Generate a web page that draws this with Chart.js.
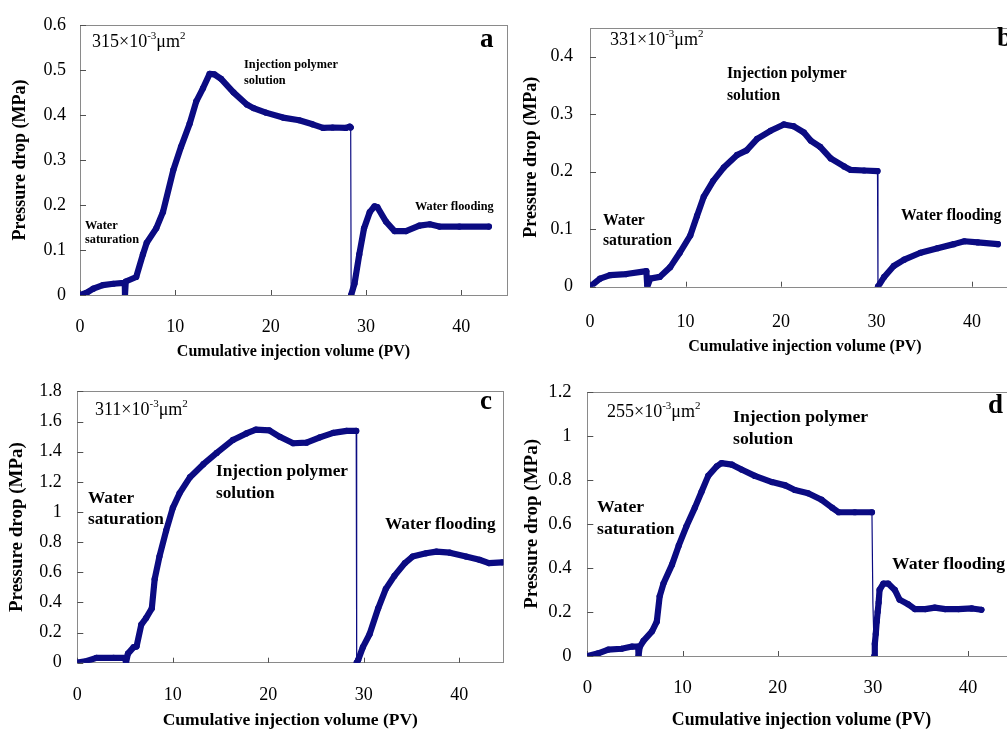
<!DOCTYPE html>
<html>
<head>
<meta charset="utf-8">
<script src="https://cdn.jsdelivr.net/npm/chart.js@4.4.1/dist/chart.umd.min.js"></script>
<style>
body{margin:0;width:1007px;height:731px;overflow:hidden;background:#fff;position:relative}
canvas{position:absolute}
.t{position:absolute;font-family:"Liberation Serif","Times New Roman",serif;color:#000;white-space:nowrap}
.b{font-weight:bold}
.k{font-size:18px;line-height:20px}
.k sup{font-size:11px;line-height:0;position:relative;top:-1px}
</style>
</head>
<body>
<canvas id="ChartA" width="510" height="365" style="left:0;top:0"></canvas>
<canvas id="ChartB" width="520" height="360" style="left:510px;top:0"></canvas>
<canvas id="ChartC" width="510" height="366" style="left:0;top:365px"></canvas>
<canvas id="ChartD" width="520" height="366" style="left:510px;top:365px"></canvas>

<div class="t k" style="left:92px;top:31px">315×10<sup>-3</sup>μm<sup>2</sup></div>
<div class="t k" style="left:610px;top:29px">331×10<sup>-3</sup>μm<sup>2</sup></div>
<div class="t k" style="left:95px;top:399px">311×10<sup>-3</sup>μm<sup>2</sup></div>
<div class="t k" style="left:607px;top:401px">255×10<sup>-3</sup>μm<sup>2</sup></div>

<div class="t b" style="left:480px;top:24px;font-size:27px;line-height:28px">a</div>
<div class="t b" style="left:997px;top:23px;font-size:27px;line-height:28px">b</div>
<div class="t b" style="left:480px;top:386px;font-size:27px;line-height:28px">c</div>
<div class="t b" style="left:988px;top:390px;font-size:27px;line-height:28px">d</div>

<div class="t b" style="left:244px;top:56px;font-size:12.3px;line-height:16px">Injection polymer<br>solution</div>
<div class="t b" style="left:415px;top:198px;font-size:12.3px;line-height:16px">Water flooding</div>
<div class="t b" style="left:85px;top:218px;font-size:12.3px;line-height:14px">Water<br>saturation</div>

<div class="t b" style="left:727px;top:62px;font-size:15.7px;line-height:22px">Injection polymer<br>solution</div>
<div class="t b" style="left:901px;top:204px;font-size:15.7px;line-height:22px">Water flooding</div>
<div class="t b" style="left:603px;top:210px;font-size:15.7px;line-height:20px">Water<br>saturation</div>

<div class="t b" style="left:216px;top:460px;font-size:17.3px;line-height:22px">Injection polymer<br>solution</div>
<div class="t b" style="left:385px;top:513px;font-size:17.3px;line-height:22px">Water flooding</div>
<div class="t b" style="left:88px;top:487px;font-size:17.3px;line-height:21px">Water<br>saturation</div>

<div class="t b" style="left:733px;top:405px;font-size:17.7px;line-height:22px">Injection polymer<br>solution</div>
<div class="t b" style="left:892px;top:552px;font-size:17.7px;line-height:22px">Water flooding</div>
<div class="t b" style="left:597px;top:495px;font-size:17.7px;line-height:22px">Water<br>saturation</div>

<script>
// panel a  315e-3 um2
const aX=[0,0.7,1.4,2.4,3.5,4.6,4.7,4.72,4.8,5.9,6.6,7.0,8.0,8.7,9.8,10.6,11.5,12.2,12.9,13.6,14.1,14.8,16.1,17.5,18.2,19.5,21.3,23.0,24.4,25.5,26.5,27.9,28.3,28.4,28.45,28.8,29.3,29.8,30.4,30.9,31.2,32.1,33.0,34.2,35.6,36.7,37.7,39.8,42.9];
const aY=[0,0.005,0.014,0.022,0.025,0.027,0.025,0,0.03,0.04,0.09,0.116,0.148,0.184,0.278,0.329,0.38,0.43,0.459,0.491,0.49,0.48,0.45,0.423,0.415,0.405,0.394,0.388,0.379,0.371,0.372,0.371,0.374,0.372,0,0.025,0.09,0.148,0.184,0.197,0.195,0.163,0.142,0.142,0.154,0.157,0.152,0.152,0.152];

// panel b  331e-3 um2
const bX=[0,1.05,2.1,3.8,5.9,6.0,6.3,7.3,8.4,9.4,10.5,11.2,11.9,12.9,14.0,15.4,16.4,17.5,18.9,20.3,21.3,22.4,23.1,24.1,25.2,26.6,27.3,28.7,30.1,30.15,30.8,31.8,32.9,34.6,36.4,38.1,39.2,40.6,42.7];
const bY=[0,0.014,0.02,0.022,0.027,0,0.014,0.017,0.034,0.059,0.089,0.123,0.156,0.184,0.207,0.229,0.237,0.257,0.271,0.282,0.279,0.268,0.254,0.243,0.223,0.209,0.203,0.202,0.201,0,0.017,0.036,0.047,0.059,0.067,0.074,0.079,0.077,0.074];

// panel c  311e-3 um2
const cX=[0,1.0,2.0,3.8,5.0,5.1,5.3,5.9,6.2,6.7,7.2,7.8,8.1,8.6,9.3,10.0,10.7,11.8,13.2,14.6,16.3,17.7,18.7,20.1,21.2,22.6,24.0,25.4,26.8,28.2,29.2,29.25,29.4,29.9,30.6,31.5,32.3,33.2,34.3,35.1,36.5,37.6,39.0,40.7,42.1,43.1,44.5];
const cY=[0,0.011,0.032,0.032,0.032,0,0.06,0.103,0.107,0.253,0.296,0.36,0.554,0.704,0.876,1.027,1.123,1.231,1.317,1.392,1.478,1.521,1.546,1.542,1.499,1.456,1.46,1.495,1.525,1.538,1.538,0,0.017,0.103,0.189,0.361,0.49,0.576,0.661,0.704,0.726,0.737,0.73,0.704,0.683,0.661,0.666];

// panel d  255e-3 um2
const dX=[0,1.15,2.2,3.6,4.7,5.35,5.38,5.5,5.9,6.8,7.3,7.6,8.0,8.9,9.6,10.4,11.3,12.0,12.7,13.6,14.1,15.2,16.2,17.6,19.4,20.8,21.8,23.2,24.6,25.7,26.4,28.1,29.9,30.0,30.15,30.2,30.3,30.4,30.5,30.6,30.7,31.1,31.6,32.3,32.8,33.7,34.4,35.5,36.5,37.6,39.0,40.4,41.4];
const dY=[0,0.012,0.029,0.033,0.043,0.043,0,0.04,0.069,0.112,0.156,0.271,0.329,0.415,0.501,0.588,0.674,0.746,0.818,0.862,0.876,0.869,0.847,0.818,0.79,0.775,0.754,0.739,0.71,0.674,0.653,0.653,0.653,0.24,0,0.055,0.1,0.156,0.2,0.242,0.3,0.329,0.329,0.3,0.256,0.235,0.213,0.213,0.22,0.213,0.213,0.216,0.21];

const xTitle="Cumulative injection volume (PV)";
const yTitle="Pressure drop (MPa)";
const xTicksStep=10;

const NAVY='#0b0b82';
const SERIF='"Liberation Serif","Times New Roman",serif';

const frameAndTicks={
id:'frameAndTicks',
beforeDatasetsDraw(chart){
const {ctx,chartArea:A,scales}=chart;
ctx.save();
ctx.strokeStyle='#8a8a8a';ctx.lineWidth=1;
ctx.strokeRect(Math.round(A.left)+0.5,Math.round(A.top)+0.5,Math.round(A.right-A.left),Math.round(A.bottom-A.top));
ctx.strokeStyle='#505050';
ctx.beginPath();
scales.x.ticks.forEach(t=>{const px=Math.round(scales.x.getPixelForValue(t.value))+0.5;ctx.moveTo(px,A.bottom);ctx.lineTo(px,A.bottom-5)});
scales.y.ticks.forEach(t=>{const py=Math.round(scales.y.getPixelForValue(t.value))+0.5;ctx.moveTo(A.left,py);ctx.lineTo(A.left+6,py)});
ctx.stroke();
ctx.restore();
}};

// ticks every step from 0 up to the axis max, the max itself left unlabelled
function stepTicks(step){return s=>{const out=[];for(let i=0;i*step<=s.max+1e-9;i++){out.push({value:+(i*step).toFixed(6)})}s.ticks=out}}

// the thin vertical drop keeps no marker at its lower bend
function dotSize(c){
const d=c.dataset.data,i=c.dataIndex;
if(i>0&&i<d.length-1&&d[i-1].y-d[i].y>0.3&&d[i].y-d[i+1].y>0.1)return 0;
return 3.1}

function MakePanel(id,X,Y,P){
const pts=X.map((x,i)=>({x:x,y:Y[i]}));
return new Chart(document.getElementById(id),{
type:'line',
data:{datasets:[{
data:pts,borderColor:NAVY,backgroundColor:NAVY,borderWidth:6.2,
pointRadius:dotSize,pointHoverRadius:dotSize,pointBorderWidth:0,
borderJoinStyle:'round',borderCapStyle:'round',tension:0,
segment:{borderWidth:c=>(c.p1.y-c.p0.y>40?1.2:undefined)}
}]},
options:{
responsive:false,animation:false,
layout:{autoPadding:false,padding:{top:P.top,right:P.right,left:0,bottom:0}},
plugins:{legend:{display:false},tooltip:{enabled:false}},
scales:{
x:{type:'linear',min:0,max:P.xMax,
grid:{display:false,drawTicks:false},border:{display:false},
afterBuildTicks:stepTicks(xTicksStep),
afterFit:s=>{s.height=P.xH},
ticks:{stepSize:xTicksStep,padding:P.xPad,color:'#000',maxRotation:0,autoSkip:false,font:{family:SERIF,size:P.tickSize}},
title:{display:true,text:xTitle,color:'#000',padding:{top:0,bottom:P.xTitlePad},font:{family:SERIF,size:P.xTitleSize,weight:'bold'}}
},
y:{type:'linear',min:0,max:P.yMax,
grid:{display:false,drawTicks:false},border:{display:false},
afterBuildTicks:stepTicks(P.yStep),
afterFit:s=>{s.width=P.yW},
ticks:{stepSize:P.yStep,padding:P.yPad,color:'#000',autoSkip:false,callback:v=>String(+v.toFixed(2)),font:{family:SERIF,size:P.tickSize}},
title:{display:true,text:yTitle,color:'#000',padding:{top:P.yTitlePad,bottom:0},font:{family:SERIF,size:P.yTitleSize,weight:'bold'}}
}
}
},
plugins:[frameAndTicks]
});
}

let ChartA,ChartB,ChartC,ChartD;
function LoadAll(){
ChartA=MakePanel('ChartA',aX,aY,{top:18,right:3,xMax:44.8,yMax:0.6,yStep:0.1,xH:70,yW:80,xPad:21,yPad:14,xTitlePad:3.4,yTitlePad:9.2,tickSize:18,xTitleSize:16,yTitleSize:18});
ChartB=MakePanel('ChartB',bX,bY,{top:14.3,right:10.2,xMax:45,yMax:0.45,yStep:0.1,xH:73.3,yW:80,xPad:24.5,yPad:17,xTitlePad:3.4,yTitlePad:10.2,tickSize:18,xTitleSize:16,yTitleSize:18});
ChartC=MakePanel('ChartC',cX,cY,{top:18.3,right:6.7,xMax:44.6,yMax:1.8,yStep:0.2,xH:68.3,yW:77.3,xPad:21.5,yPad:15.6,xTitlePad:0.5,yTitlePad:5.6,tickSize:18,xTitleSize:17.5,yTitleSize:19});
ChartD=MakePanel('ChartD',dX,dY,{top:13.3,right:14.3,xMax:45,yMax:1.2,yStep:0.2,xH:75,yW:77.3,xPad:20.8,yPad:15.6,xTitlePad:0,yTitlePad:10.3,tickSize:18.7,xTitleSize:17.8,yTitleSize:19});
}
LoadAll();
</script>
</body>
</html>
